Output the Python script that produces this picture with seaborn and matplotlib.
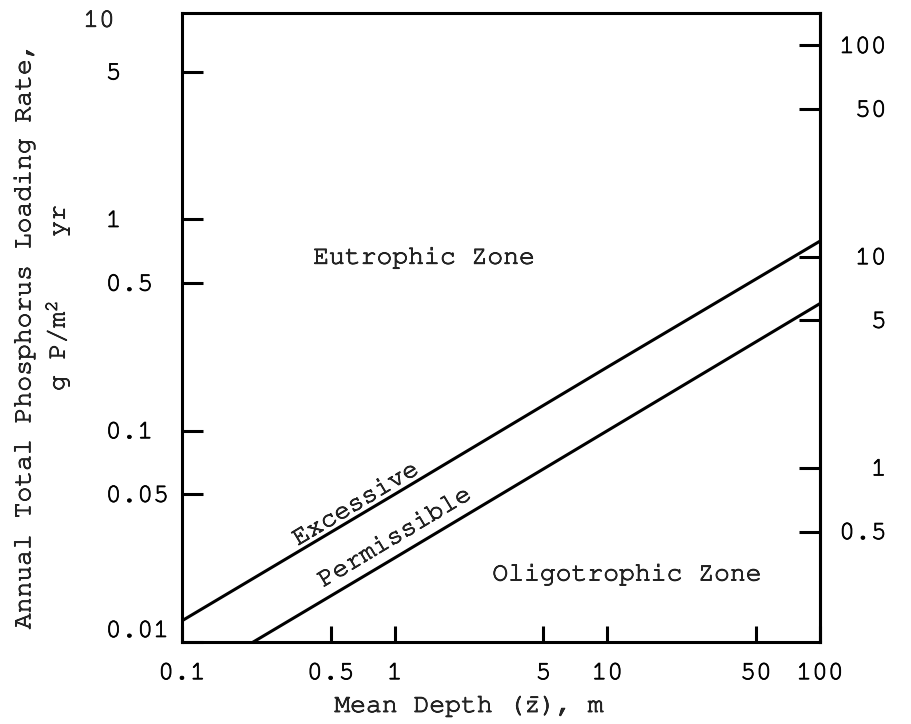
import matplotlib
matplotlib.use("Agg")
import matplotlib.pyplot as plt
import matplotlib.patheffects as pe
import seaborn as sns
from matplotlib import font_manager
from matplotlib.text import Text
from matplotlib.ticker import FixedLocator, FixedFormatter, NullLocator

# Phosphorus loading criteria versus mean depth
depth = [0.1, 1, 10, 100]
excessive = [0.0126, 0.05, 0.2, 0.79]
permissible = [0.0063, 0.025, 0.1, 0.40]

x_ticks = [0.1, 0.5, 1, 5, 10, 50, 100]
x_labels = ["0.1", "0.5", "1", "5", "10", "50", "100"]
left_ticks = [0.01, 0.05, 0.1, 0.5, 1, 5]
left_labels = ["0.01", "0.05", "0.1", "0.5", "1", "5"]
right_ticks = [0.5, 1, 5, 10, 50, 100]
right_labels = ["0.5", "1", "5", "10", "50", "100"]
N_TO_P = 15  # right-hand scale is the phosphorus scale times this ratio

sns.set_style("white")

# prefer a typewriter-style face if one is present
installed = {f.name for f in font_manager.fontManager.ttflist}
candidates = ["Courier New", "Courier", "Nimbus Mono PS", "Nimbus Mono L",
              "FreeMono", "Courier Prime", "Liberation Mono", "DejaVu Sans Mono"]
family = [c for c in candidates if c in installed]
plt.rcParams["font.family"] = family
plt.rcParams["font.size"] = 19
plt.rcParams["mathtext.fontset"] = "custom"
plt.rcParams["mathtext.rm"] = family[0]
plt.rcParams["mathtext.it"] = family[0]
LW = 2.2

fig = plt.figure(figsize=(9.11, 7.24), dpi=100)
ax = fig.add_axes([0.1998, 0.1133, 0.7003, 0.8688])

sns.lineplot(x=depth, y=excessive, ax=ax, color="black", lw=LW)
sns.lineplot(x=depth, y=permissible, ax=ax, color="black", lw=LW)

ax.set_xscale("log")
ax.set_yscale("log")
ax.set_xlim(0.1, 100)
ax.set_ylim(0.01, 9.5)

for s in ax.spines.values():
    s.set_linewidth(LW)
    s.set_color("black")

ax.xaxis.set_major_locator(FixedLocator(x_ticks))
ax.xaxis.set_major_formatter(FixedFormatter(x_labels))
ax.xaxis.set_minor_locator(NullLocator())
ax.yaxis.set_major_locator(FixedLocator(left_ticks))
ax.yaxis.set_major_formatter(FixedFormatter(left_labels))
ax.yaxis.set_minor_locator(NullLocator())

ax.tick_params(axis="x", direction="in", length=11.5, width=LW, pad=16,
               bottom=True, top=False, colors="black")
ax.tick_params(axis="y", direction="in", length=15, width=LW, pad=55,
               left=True, right=False, colors="black")
for lab in ax.get_yticklabels():
    lab.set_ha("left")
    if lab.get_text() == "0.01":
        lab.set_va("bottom")

# Right-hand scale
sec = ax.secondary_yaxis("right", functions=(lambda v: v * N_TO_P,
                                              lambda v: v / N_TO_P))
sec.yaxis.set_major_locator(FixedLocator(right_ticks))
sec.yaxis.set_major_formatter(FixedFormatter(right_labels))
sec.yaxis.set_minor_locator(NullLocator())
sec.tick_params(direction="in", length=15, width=LW, pad=48, colors="black")
sec.spines["right"].set_linewidth(LW)
for lab in sec.get_yticklabels():
    lab.set_ha("right")

# top label of the left scale
ax.text(-0.155, 0.986, "10", transform=ax.transAxes, ha="left", va="center")

# axis titles
ax.set_xlabel(r"Mean Depth ($\bar{\mathrm{z}}$), m")
ax.xaxis.set_label_coords(0.451, -0.084)
ax.set_ylabel("Annual Total Phosphorus Loading Rate,")
ax.yaxis.set_label_coords(-0.230, 0.485)
ax.text(-0.172, 0.547, r"g P/m$^\mathrm{2}$    yr", transform=ax.transAxes,
        rotation=90, rotation_mode="anchor", ha="center", va="bottom")

# zone and criterion labels
ax.text(0.379, 0.610, "Eutrophic Zone", transform=ax.transAxes,
        ha="center", va="center")
ax.text(0.697, 0.1065, "Oligotrophic Zone", transform=ax.transAxes,
        ha="center", va="center")
ax.text(0.273, 0.218, "Excessive", transform=ax.transAxes,
        ha="center", va="center", rotation=31)
ax.text(0.334, 0.165, "Permissible", transform=ax.transAxes,
        ha="center", va="center", rotation=31)

# typed lettering: give the thin monospace strokes a little more weight
for t in fig.findobj(Text):
    t.set_path_effects([pe.withStroke(linewidth=0.55, foreground="black")])

fig.savefig("out.png", dpi=100, facecolor="white")
